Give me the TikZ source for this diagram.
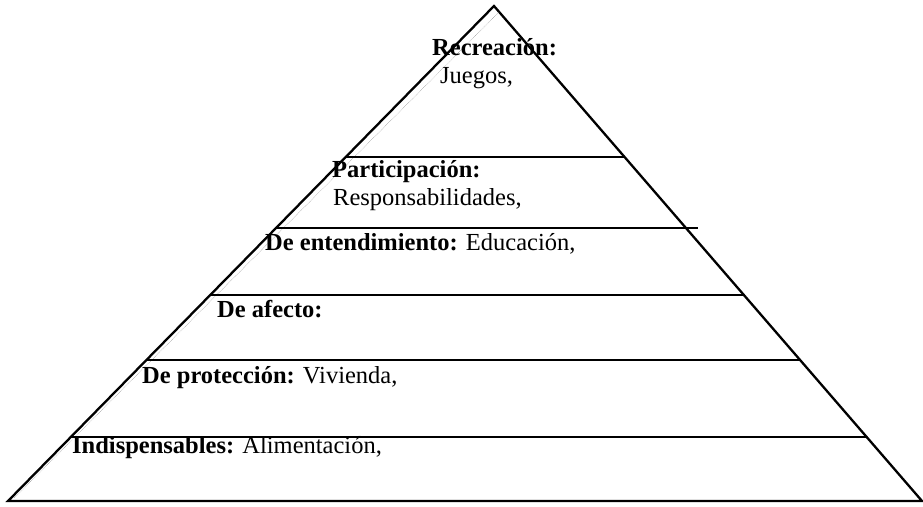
\documentclass[tikz,border=0pt]{standalone}
\usepackage{fontspec}
\setmainfont{Liberation Serif}
\usetikzlibrary{calc}

\begin{document}
\begin{tikzpicture}[
  x=1pt, y=-1pt,
  side/.style     = {line width=2.3pt, line join=miter},
  tier/.style     = {line width=1.9pt},
  ghost/.style    = {black!45, line width=0.5pt, densely dotted},
  tiertext/.style = {anchor=base west, inner sep=0pt, font=\fontsize{24.5}{28}\selectfont},
]
  \useasboundingbox (0,0) rectangle (923,506);

%--- outline of the pyramid ---
  \coordinate (apex) at (494,6);
  \coordinate (bl)   at (8,501);
  \coordinate (br)   at (922,501);
  \draw[side] (bl) -- (apex) -- (br) -- cycle;

  % faint trace along the left side
  \coordinate (gtop) at (499,12);
  \coordinate (gbot) at (14,498);
  \draw[ghost] (gtop) -- (gbot);

%--- tier boundaries ---
  \coordinate (t1l) at ($(apex)!{151/495}!(bl)$);
  \coordinate (t1r) at ($(apex)!{151/495}!(br)$);
  \coordinate (t2l) at ($(apex)!{222/495}!(bl)$);
  \coordinate (t2r) at ($(apex)!{222/495}!(br)+(12,0)$);
  \coordinate (t3l) at ($(apex)!{289/495}!(bl)$);
  \coordinate (t3r) at ($(apex)!{289/495}!(br)$);
  \coordinate (t4l) at ($(apex)!{354/495}!(bl)$);
  \coordinate (t4r) at ($(apex)!{354/495}!(br)$);
  \coordinate (t5l) at ($(apex)!{431/495}!(bl)$);
  \coordinate (t5r) at ($(apex)!{431/495}!(br)$);

  \draw[tier] (t1l) -- (t1r);
  \draw[tier] (t2l) -- (t2r);
  \draw[tier] (t3l) -- (t3r);
  \draw[tier] (t4l) -- (t4r);
  \draw[tier] (t5l) -- (t5r);

%--- tier texts ---
  \node[tiertext] (recHead) at (432,55)  {\textbf{Recreación:}};
  \node[tiertext] (recBody) at (440,83)  {Juegos,};
  \node[tiertext] (parHead) at (332,177) {\textbf{Participación:}};
  \node[tiertext] (parBody) at (333,205) {Responsabilidades,};
  \node[tiertext] (ent)     at (265,250) {\textbf{De entendimiento:} Educación,};
  \node[tiertext] (afe)     at (217,317) {\textbf{De afecto:}};
  \node[tiertext] (pro)     at (142,383) {\textbf{De protección:} Vivienda,};
  \node[tiertext] (ind)     at (72,453)  {\textbf{Indispensables:} Alimentación,};
\end{tikzpicture}
\end{document}
